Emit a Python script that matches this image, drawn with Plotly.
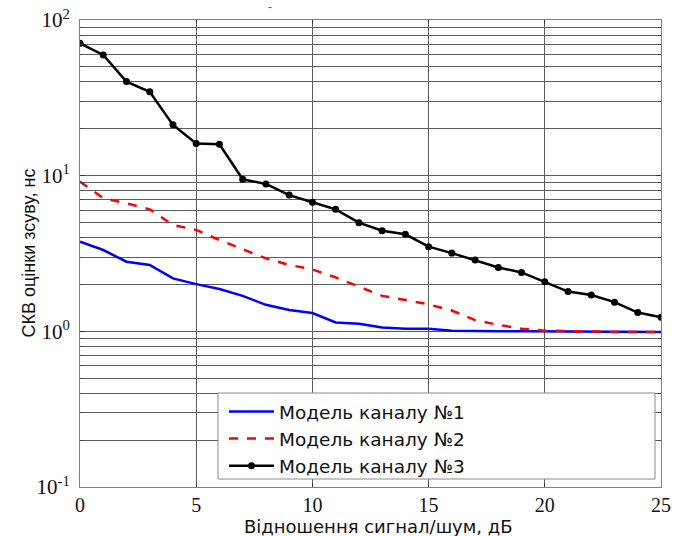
import plotly.graph_objects as go

# SNR values, dB
snr_db = list(range(0, 26))

# RMS error of delay estimate, ns, for each channel model
model1 = [3.77, 3.33, 2.80, 2.67, 2.19, 2.01, 1.87, 1.69, 1.48, 1.37, 1.31,
          1.14, 1.12, 1.06, 1.04, 1.04, 1.01, 1.00, 1.00, 1.00, 1.00,
          1.00, 0.99, 0.99, 0.99, 0.99]
model2 = [9.16, 7.16, 6.65, 6.08, 4.82, 4.48, 3.86, 3.38, 2.94, 2.67, 2.50,
          2.22, 1.94, 1.69, 1.59, 1.49, 1.36, 1.18, 1.10, 1.04, 1.01,
          1.00, 1.00, 0.99, 0.99, 0.99]
model3 = [70.8, 59.6, 40.2, 34.6, 21.2, 16.1, 15.9, 9.48, 8.85, 7.5, 6.75,
          6.08, 4.99, 4.43, 4.2, 3.5, 3.18, 2.87, 2.57, 2.39, 2.08,
          1.80, 1.71, 1.54, 1.32, 1.23]

series_names = ["Модель каналу №1", "Модель каналу №2", "Модель каналу №3"]
x_title = "Відношення сигнал/шум, дБ"
y_title = "СКВ оцінки зсуву, нс"

x_ticks = [0, 5, 10, 15, 20, 25]
y_ticks = [0.1, 1, 10, 100]
y_tick_text = ["10<sup>-1</sup>", "10<sup>0</sup>", "10<sup>1</sup>", "10<sup>2</sup>"]
y_minor = [m * d for d in (0.1, 1, 10) for m in range(2, 10)]

serif = "Liberation Serif, Times New Roman, serif"
sans = "Liberation Sans, Arial, sans-serif"
wide_sans = "DejaVu Sans, Verdana, sans-serif"
grid_col = "#5e5e5e"
frame_col = "#808080"

# plot-area geometry in pixels (used to place panel and titles)
L, R, T, B = 80, 661, 20, 487
W, H = R - L, B - T


def px_x(p):
    return (p - L) / W


def px_y(p):
    return (B - p) / H


fig = go.Figure()
fig.add_trace(go.Scatter(x=snr_db, y=model1, name=series_names[0], mode="lines",
                         line=dict(color="#0000ff", width=2.5)))
fig.add_trace(go.Scatter(x=snr_db, y=model2, name=series_names[1], mode="lines",
                         line=dict(color="#ff0000", width=2.5, dash="dash")))
fig.add_trace(go.Scatter(x=snr_db, y=model3, name=series_names[2], mode="lines+markers",
                         line=dict(color="#000000", width=2.5),
                         marker=dict(color="#000000", size=7)))

# white legend panel
fig.add_shape(type="rect", xref="paper", yref="paper",
              x0=px_x(218), x1=px_x(655), y0=px_y(479), y1=px_y(393),
              fillcolor="white", line=dict(color="#8a8a8a", width=1), layer="above")

fig.update_layout(
    width=680, height=536,
    margin=dict(l=L, r=680 - R, t=T, b=536 - B, autoexpand=False),
    plot_bgcolor="white", paper_bgcolor="white",
    showlegend=True,
    legend=dict(x=px_x(224), y=px_y(393), xanchor="left", yanchor="top",
                bgcolor="rgba(0,0,0,0)", borderwidth=0,
                font=dict(family=wide_sans, size=18.5, color="#111111"),
                tracegroupgap=0, itemwidth=45),
    xaxis=dict(range=[0, 25], tickvals=x_ticks, ticktext=[str(v) for v in x_ticks],
               automargin=False,
               showgrid=True, gridcolor=grid_col, gridwidth=1, zeroline=False,
               showline=True, linecolor=frame_col, linewidth=1, mirror="ticks",
               ticks="inside", ticklen=4, tickcolor="#333333",
               tickfont=dict(family=serif, size=20, color="#111111")),
    yaxis=dict(type="log", range=[-1, 2], tickvals=y_ticks, ticktext=y_tick_text,
               automargin=False, ticklabelstandoff=5,
               showgrid=True, gridcolor=grid_col, gridwidth=1, zeroline=False,
               showline=True, linecolor=frame_col, linewidth=1, mirror="ticks",
               ticks="inside", ticklen=5, tickcolor="#333333",
               tickfont=dict(family=serif, size=21, color="#111111"),
               minor=dict(tickvals=y_minor, showgrid=True, gridcolor=grid_col,
                          gridwidth=1, ticks="inside", ticklen=3, tickcolor="#444444")),
)

# axis titles
fig.add_annotation(x=px_x(378), y=px_y(526), xref="paper", yref="paper", text=x_title,
                   showarrow=False, xanchor="center", yanchor="middle",
                   font=dict(family=wide_sans, size=18, color="#111111"))
fig.add_annotation(x=px_x(28), y=0.5, xref="paper", yref="paper", text=y_title,
                   showarrow=False, textangle=-90, xanchor="center", yanchor="middle",
                   font=dict(family=sans, size=18, color="#111111"))

# small mark above the plot frame
fig.add_annotation(x=px_x(266), y=1, xref="paper", yref="paper",
                   yanchor="bottom", yshift=4, text="-", showarrow=False,
                   font=dict(family=sans, size=12, color="#555555"))

fig.write_html("out.html")
